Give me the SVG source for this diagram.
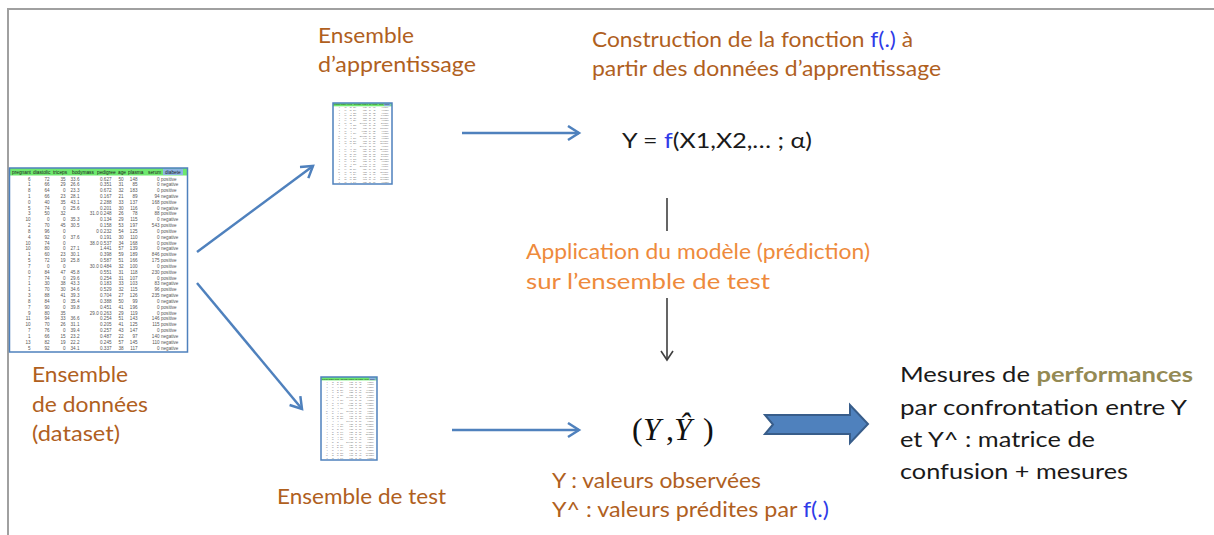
<svg xmlns="http://www.w3.org/2000/svg" xmlns:xlink="http://www.w3.org/1999/xlink" width="1214" height="535" viewBox="0 0 1214 535">
  <style>
    .lbl { font-family: Lato, "Liberation Sans", sans-serif; font-size: 21px; }
    .brown { fill: #B0601E; }
    .orange { fill: #EE8A3C; }
    .dark { fill: #1A1A1A; }
    .fn { fill: #2F3BE8; }
    .perf { fill: #948A54; font-weight: bold; }
    .math { font-family: "Liberation Serif", serif; font-size: 32px; fill: #111; }
    .cell { font-family: "Liberation Sans", sans-serif; font-size: 4.6px; fill: #555; }
    .head { font-family: "Liberation Sans", sans-serif; font-size: 4.8px; fill: #222; }
    .flow { stroke: #4F81BD; stroke-width: 2.5; fill: none; }
    .step { stroke: #3F3F3F; stroke-width: 1.6; fill: none; }
    .frame { stroke: #A0A0A0; stroke-width: 2; fill: none; }
  </style>
  <defs>
    <marker id="headBlue" markerUnits="userSpaceOnUse" markerWidth="16" markerHeight="18" refX="13" refY="8" orient="auto">
      <path d="M2,1 L13,8 L2,15" stroke="#4F81BD" stroke-width="2.5" fill="none"/>
    </marker>
    <marker id="headDark" markerUnits="userSpaceOnUse" markerWidth="14" markerHeight="16" refX="11" refY="7" orient="auto">
      <path d="M2,1 L11,7 L2,13" stroke="#3F3F3F" stroke-width="1.6" fill="none"/>
    </marker>

    <!-- spreadsheet extract (Pima diabetes data), local coords 178 x 184 -->
    <g id="sheet">
      <rect x="0" y="0" width="178" height="184" fill="#FFFFFF"/>
      <rect x="0" y="0" width="178" height="7.5" fill="#6EE86E"/>
      <rect x="153.5" y="0.5" width="20" height="6.5" fill="#8DB4E2"/>
      <g class="head">
        <text x="2.5" y="5.6">pregnant</text>
        <text x="23.5" y="5.6">diastolic</text>
        <text x="43.5" y="5.6">triceps</text>
        <text x="62.5" y="5.6">bodymass</text>
        <text x="87.5" y="5.6">pedigree</text>
        <text x="108.5" y="5.6">age</text>
        <text x="118.5" y="5.6">plasma</text>
        <text x="138.5" y="5.6">serum</text>
        <text x="155.5" y="5.6">diabete</text>
      </g>
      <g class="cell" text-anchor="end">
        <text x="21" y="12.5">6<tspan x="21" dy="5.83">1</tspan><tspan x="21" dy="5.83">8</tspan><tspan x="21" dy="5.83">1</tspan><tspan x="21" dy="5.83">0</tspan><tspan x="21" dy="5.83">5</tspan><tspan x="21" dy="5.83">3</tspan><tspan x="21" dy="5.83">10</tspan><tspan x="21" dy="5.83">2</tspan><tspan x="21" dy="5.83">8</tspan><tspan x="21" dy="5.83">4</tspan><tspan x="21" dy="5.83">10</tspan><tspan x="21" dy="5.83">10</tspan><tspan x="21" dy="5.83">1</tspan><tspan x="21" dy="5.83">5</tspan><tspan x="21" dy="5.83">7</tspan><tspan x="21" dy="5.83">0</tspan><tspan x="21" dy="5.83">7</tspan><tspan x="21" dy="5.83">1</tspan><tspan x="21" dy="5.83">1</tspan><tspan x="21" dy="5.83">3</tspan><tspan x="21" dy="5.83">8</tspan><tspan x="21" dy="5.83">7</tspan><tspan x="21" dy="5.83">9</tspan><tspan x="21" dy="5.83">11</tspan><tspan x="21" dy="5.83">10</tspan><tspan x="21" dy="5.83">7</tspan><tspan x="21" dy="5.83">1</tspan><tspan x="21" dy="5.83">13</tspan><tspan x="21" dy="5.83">5</tspan></text>
        <text x="40" y="12.5">72<tspan x="40" dy="5.83">66</tspan><tspan x="40" dy="5.83">64</tspan><tspan x="40" dy="5.83">66</tspan><tspan x="40" dy="5.83">40</tspan><tspan x="40" dy="5.83">74</tspan><tspan x="40" dy="5.83">50</tspan><tspan x="40" dy="5.83">0</tspan><tspan x="40" dy="5.83">70</tspan><tspan x="40" dy="5.83">96</tspan><tspan x="40" dy="5.83">92</tspan><tspan x="40" dy="5.83">74</tspan><tspan x="40" dy="5.83">80</tspan><tspan x="40" dy="5.83">60</tspan><tspan x="40" dy="5.83">72</tspan><tspan x="40" dy="5.83">0</tspan><tspan x="40" dy="5.83">84</tspan><tspan x="40" dy="5.83">74</tspan><tspan x="40" dy="5.83">30</tspan><tspan x="40" dy="5.83">70</tspan><tspan x="40" dy="5.83">88</tspan><tspan x="40" dy="5.83">84</tspan><tspan x="40" dy="5.83">90</tspan><tspan x="40" dy="5.83">80</tspan><tspan x="40" dy="5.83">94</tspan><tspan x="40" dy="5.83">70</tspan><tspan x="40" dy="5.83">76</tspan><tspan x="40" dy="5.83">66</tspan><tspan x="40" dy="5.83">82</tspan><tspan x="40" dy="5.83">92</tspan></text>
        <text x="56" y="12.5">35<tspan x="56" dy="5.83">29</tspan><tspan x="56" dy="5.83">0</tspan><tspan x="56" dy="5.83">23</tspan><tspan x="56" dy="5.83">35</tspan><tspan x="56" dy="5.83">0</tspan><tspan x="56" dy="5.83">32</tspan><tspan x="56" dy="5.83">0</tspan><tspan x="56" dy="5.83">45</tspan><tspan x="56" dy="5.83">0</tspan><tspan x="56" dy="5.83">0</tspan><tspan x="56" dy="5.83">0</tspan><tspan x="56" dy="5.83">0</tspan><tspan x="56" dy="5.83">23</tspan><tspan x="56" dy="5.83">19</tspan><tspan x="56" dy="5.83">0</tspan><tspan x="56" dy="5.83">47</tspan><tspan x="56" dy="5.83">0</tspan><tspan x="56" dy="5.83">38</tspan><tspan x="56" dy="5.83">30</tspan><tspan x="56" dy="5.83">41</tspan><tspan x="56" dy="5.83">0</tspan><tspan x="56" dy="5.83">0</tspan><tspan x="56" dy="5.83">35</tspan><tspan x="56" dy="5.83">33</tspan><tspan x="56" dy="5.83">26</tspan><tspan x="56" dy="5.83">0</tspan><tspan x="56" dy="5.83">15</tspan><tspan x="56" dy="5.83">19</tspan><tspan x="56" dy="5.83">0</tspan></text>
        <text x="70" y="12.5">33.6<tspan x="70" dy="5.83">26.6</tspan><tspan x="70" dy="5.83">23.3</tspan><tspan x="70" dy="5.83">28.1</tspan><tspan x="70" dy="5.83">43.1</tspan><tspan x="70" dy="5.83">25.6</tspan><tspan x="70" dy="5.83"> </tspan><tspan x="70" dy="5.83">35.3</tspan><tspan x="70" dy="5.83">30.5</tspan><tspan x="70" dy="5.83"> </tspan><tspan x="70" dy="5.83">37.6</tspan><tspan x="70" dy="5.83"> </tspan><tspan x="70" dy="5.83">27.1</tspan><tspan x="70" dy="5.83">30.1</tspan><tspan x="70" dy="5.83">25.8</tspan><tspan x="70" dy="5.83"> </tspan><tspan x="70" dy="5.83">45.8</tspan><tspan x="70" dy="5.83">29.6</tspan><tspan x="70" dy="5.83">43.3</tspan><tspan x="70" dy="5.83">34.6</tspan><tspan x="70" dy="5.83">39.3</tspan><tspan x="70" dy="5.83">35.4</tspan><tspan x="70" dy="5.83">39.8</tspan><tspan x="70" dy="5.83"> </tspan><tspan x="70" dy="5.83">36.6</tspan><tspan x="70" dy="5.83">31.1</tspan><tspan x="70" dy="5.83">39.4</tspan><tspan x="70" dy="5.83">23.2</tspan><tspan x="70" dy="5.83">22.2</tspan><tspan x="70" dy="5.83">34.1</tspan></text>
        <text x="102" y="12.5">0.627<tspan x="102" dy="5.83">0.351</tspan><tspan x="102" dy="5.83">0.672</tspan><tspan x="102" dy="5.83">0.167</tspan><tspan x="102" dy="5.83">2.288</tspan><tspan x="102" dy="5.83">0.201</tspan><tspan x="102" dy="5.83">31.0 0.248</tspan><tspan x="102" dy="5.83">0.134</tspan><tspan x="102" dy="5.83">0.158</tspan><tspan x="102" dy="5.83">0 0.232</tspan><tspan x="102" dy="5.83">0.191</tspan><tspan x="102" dy="5.83">38.0 0.537</tspan><tspan x="102" dy="5.83">1.441</tspan><tspan x="102" dy="5.83">0.398</tspan><tspan x="102" dy="5.83">0.587</tspan><tspan x="102" dy="5.83">30.0 0.484</tspan><tspan x="102" dy="5.83">0.551</tspan><tspan x="102" dy="5.83">0.254</tspan><tspan x="102" dy="5.83">0.183</tspan><tspan x="102" dy="5.83">0.529</tspan><tspan x="102" dy="5.83">0.704</tspan><tspan x="102" dy="5.83">0.388</tspan><tspan x="102" dy="5.83">0.451</tspan><tspan x="102" dy="5.83">29.0 0.263</tspan><tspan x="102" dy="5.83">0.254</tspan><tspan x="102" dy="5.83">0.205</tspan><tspan x="102" dy="5.83">0.257</tspan><tspan x="102" dy="5.83">0.487</tspan><tspan x="102" dy="5.83">0.245</tspan><tspan x="102" dy="5.83">0.337</tspan></text>
        <text x="114" y="12.5">50<tspan x="114" dy="5.83">31</tspan><tspan x="114" dy="5.83">32</tspan><tspan x="114" dy="5.83">21</tspan><tspan x="114" dy="5.83">33</tspan><tspan x="114" dy="5.83">30</tspan><tspan x="114" dy="5.83">26</tspan><tspan x="114" dy="5.83">29</tspan><tspan x="114" dy="5.83">53</tspan><tspan x="114" dy="5.83">54</tspan><tspan x="114" dy="5.83">30</tspan><tspan x="114" dy="5.83">34</tspan><tspan x="114" dy="5.83">57</tspan><tspan x="114" dy="5.83">59</tspan><tspan x="114" dy="5.83">51</tspan><tspan x="114" dy="5.83">32</tspan><tspan x="114" dy="5.83">31</tspan><tspan x="114" dy="5.83">31</tspan><tspan x="114" dy="5.83">33</tspan><tspan x="114" dy="5.83">32</tspan><tspan x="114" dy="5.83">27</tspan><tspan x="114" dy="5.83">50</tspan><tspan x="114" dy="5.83">41</tspan><tspan x="114" dy="5.83">29</tspan><tspan x="114" dy="5.83">51</tspan><tspan x="114" dy="5.83">41</tspan><tspan x="114" dy="5.83">43</tspan><tspan x="114" dy="5.83">22</tspan><tspan x="114" dy="5.83">57</tspan><tspan x="114" dy="5.83">38</tspan></text>
        <text x="128" y="12.5">148<tspan x="128" dy="5.83">85</tspan><tspan x="128" dy="5.83">183</tspan><tspan x="128" dy="5.83">89</tspan><tspan x="128" dy="5.83">137</tspan><tspan x="128" dy="5.83">116</tspan><tspan x="128" dy="5.83">78</tspan><tspan x="128" dy="5.83">115</tspan><tspan x="128" dy="5.83">197</tspan><tspan x="128" dy="5.83">125</tspan><tspan x="128" dy="5.83">110</tspan><tspan x="128" dy="5.83">168</tspan><tspan x="128" dy="5.83">139</tspan><tspan x="128" dy="5.83">189</tspan><tspan x="128" dy="5.83">166</tspan><tspan x="128" dy="5.83">100</tspan><tspan x="128" dy="5.83">118</tspan><tspan x="128" dy="5.83">107</tspan><tspan x="128" dy="5.83">103</tspan><tspan x="128" dy="5.83">115</tspan><tspan x="128" dy="5.83">126</tspan><tspan x="128" dy="5.83">99</tspan><tspan x="128" dy="5.83">196</tspan><tspan x="128" dy="5.83">119</tspan><tspan x="128" dy="5.83">143</tspan><tspan x="128" dy="5.83">125</tspan><tspan x="128" dy="5.83">147</tspan><tspan x="128" dy="5.83">97</tspan><tspan x="128" dy="5.83">145</tspan><tspan x="128" dy="5.83">117</tspan></text>
        <text x="150" y="12.5">0<tspan x="150" dy="5.83">0</tspan><tspan x="150" dy="5.83">0</tspan><tspan x="150" dy="5.83">94</tspan><tspan x="150" dy="5.83">168</tspan><tspan x="150" dy="5.83">0</tspan><tspan x="150" dy="5.83">88</tspan><tspan x="150" dy="5.83">0</tspan><tspan x="150" dy="5.83">543</tspan><tspan x="150" dy="5.83">0</tspan><tspan x="150" dy="5.83">0</tspan><tspan x="150" dy="5.83">0</tspan><tspan x="150" dy="5.83">0</tspan><tspan x="150" dy="5.83">846</tspan><tspan x="150" dy="5.83">175</tspan><tspan x="150" dy="5.83">0</tspan><tspan x="150" dy="5.83">230</tspan><tspan x="150" dy="5.83">0</tspan><tspan x="150" dy="5.83">83</tspan><tspan x="150" dy="5.83">96</tspan><tspan x="150" dy="5.83">235</tspan><tspan x="150" dy="5.83">0</tspan><tspan x="150" dy="5.83">0</tspan><tspan x="150" dy="5.83">0</tspan><tspan x="150" dy="5.83">146</tspan><tspan x="150" dy="5.83">115</tspan><tspan x="150" dy="5.83">0</tspan><tspan x="150" dy="5.83">140</tspan><tspan x="150" dy="5.83">110</tspan><tspan x="150" dy="5.83">0</tspan></text>
      </g>
      <text class="cell" x="151.5" y="12.5">positive<tspan x="151.5" dy="5.83">negative</tspan><tspan x="151.5" dy="5.83">positive</tspan><tspan x="151.5" dy="5.83">negative</tspan><tspan x="151.5" dy="5.83">positive</tspan><tspan x="151.5" dy="5.83">negative</tspan><tspan x="151.5" dy="5.83">positive</tspan><tspan x="151.5" dy="5.83">negative</tspan><tspan x="151.5" dy="5.83">positive</tspan><tspan x="151.5" dy="5.83">positive</tspan><tspan x="151.5" dy="5.83">negative</tspan><tspan x="151.5" dy="5.83">positive</tspan><tspan x="151.5" dy="5.83">negative</tspan><tspan x="151.5" dy="5.83">positive</tspan><tspan x="151.5" dy="5.83">positive</tspan><tspan x="151.5" dy="5.83">positive</tspan><tspan x="151.5" dy="5.83">positive</tspan><tspan x="151.5" dy="5.83">positive</tspan><tspan x="151.5" dy="5.83">negative</tspan><tspan x="151.5" dy="5.83">positive</tspan><tspan x="151.5" dy="5.83">negative</tspan><tspan x="151.5" dy="5.83">negative</tspan><tspan x="151.5" dy="5.83">positive</tspan><tspan x="151.5" dy="5.83">positive</tspan><tspan x="151.5" dy="5.83">positive</tspan><tspan x="151.5" dy="5.83">positive</tspan><tspan x="151.5" dy="5.83">positive</tspan><tspan x="151.5" dy="5.83">negative</tspan><tspan x="151.5" dy="5.83">negative</tspan><tspan x="151.5" dy="5.83">negative</tspan></text>
      <rect x="0" y="0" width="178" height="184" fill="none" stroke="#4F81BD" stroke-width="1.5" vector-effect="non-scaling-stroke"/>
    </g>
  </defs>

  <rect x="0" y="0" width="1214" height="535" fill="#FFFFFF"/>
  <!-- page frame -->
  <path class="frame" d="M8,535 L8,9 L1214,9"/>

  <!-- full dataset -->
  <g id="node-dataset">
    <use xlink:href="#sheet" href="#sheet" transform="translate(9.5,168)"/>
    <text class="lbl brown" x="32" y="382" textLength="96" lengthAdjust="spacingAndGlyphs">Ensemble</text>
    <text class="lbl brown" x="32" y="412" textLength="116" lengthAdjust="spacingAndGlyphs">de données</text>
    <text class="lbl brown" x="32" y="441" textLength="88" lengthAdjust="spacingAndGlyphs">(dataset)</text>
  </g>

  <!-- training sample -->
  <g id="node-train">
    <use xlink:href="#sheet" href="#sheet" transform="translate(333,103) scale(0.3315,0.44)"/>
    <text class="lbl brown" x="318" y="43" textLength="96" lengthAdjust="spacingAndGlyphs">Ensemble</text>
    <text class="lbl brown" x="318" y="72" textLength="158" lengthAdjust="spacingAndGlyphs">d’apprentissage</text>
  </g>

  <!-- test sample -->
  <g id="node-test">
    <use xlink:href="#sheet" href="#sheet" transform="translate(321,377) scale(0.3146,0.451)"/>
    <text class="lbl brown" x="277" y="504" textLength="169" lengthAdjust="spacingAndGlyphs">Ensemble de test</text>
  </g>

  <!-- model construction -->
  <g id="node-model">
    <text class="lbl brown" x="592" y="47" textLength="321" lengthAdjust="spacingAndGlyphs">Construction de la fonction <tspan class="fn">f(.)</tspan> à</text>
    <text class="lbl brown" x="592" y="76" textLength="349" lengthAdjust="spacingAndGlyphs">partir des données d’apprentissage</text>
    <text class="lbl dark" x="622" y="148" font-size="22" textLength="190" lengthAdjust="spacingAndGlyphs">Y = <tspan class="fn">f</tspan>(X1,X2,… ; α)</text>
  </g>

  <!-- prediction step -->
  <g id="node-apply">
    <text class="lbl orange" x="526" y="259" textLength="344" lengthAdjust="spacingAndGlyphs">Application du modèle (prédiction)</text>
    <text class="lbl orange" x="526" y="289" textLength="244" lengthAdjust="spacingAndGlyphs">sur l’ensemble de test</text>
  </g>

  <!-- observed / predicted pairs -->
  <g id="node-pairs">
    <text class="math" y="440"><tspan x="632">(</tspan><tspan x="643" font-style="italic">Y</tspan><tspan x="666">,</tspan><tspan x="674" font-style="italic">Ŷ</tspan><tspan x="703">)</tspan></text>
    <text class="lbl brown" x="552" y="488" textLength="209" lengthAdjust="spacingAndGlyphs">Y : valeurs observées</text>
    <text class="lbl brown" x="552" y="517" textLength="277" lengthAdjust="spacingAndGlyphs">Y^ : valeurs prédites par <tspan class="fn">f(.)</tspan></text>
  </g>

  <!-- performance measures -->
  <g id="node-perf">
    <text class="lbl dark" x="900" y="382" font-size="22" textLength="293" lengthAdjust="spacingAndGlyphs">Mesures de <tspan class="perf">performances</tspan></text>
    <text class="lbl dark" x="900" y="415" font-size="22" textLength="287" lengthAdjust="spacingAndGlyphs">par confrontation entre Y</text>
    <text class="lbl dark" x="900" y="447" font-size="22" textLength="195" lengthAdjust="spacingAndGlyphs">et Y^ : matrice de</text>
    <text class="lbl dark" x="900" y="479" font-size="22" textLength="228" lengthAdjust="spacingAndGlyphs">confusion + mesures</text>
  </g>

  <!-- connectors -->
  <g id="connectors">
    <line class="flow" x1="197" y1="252" x2="313" y2="166" marker-end="url(#headBlue)"/>
    <line class="flow" x1="197" y1="283" x2="302" y2="409" marker-end="url(#headBlue)"/>
    <line class="flow" x1="462" y1="133" x2="579" y2="133" marker-end="url(#headBlue)"/>
    <line class="flow" x1="452" y1="430" x2="579" y2="430" marker-end="url(#headBlue)"/>
    <line class="step" x1="667" y1="198" x2="667" y2="231"/>
    <line class="step" x1="667" y1="298" x2="667" y2="360" marker-end="url(#headDark)"/>
    <path d="M765,415 L850,415 L850,405 L868,424 L850,443 L850,434 L765,434 L773,424.5 Z" fill="#4F81BD" stroke="#385D8A" stroke-width="2" stroke-linejoin="miter"/>
  </g>
</svg>
